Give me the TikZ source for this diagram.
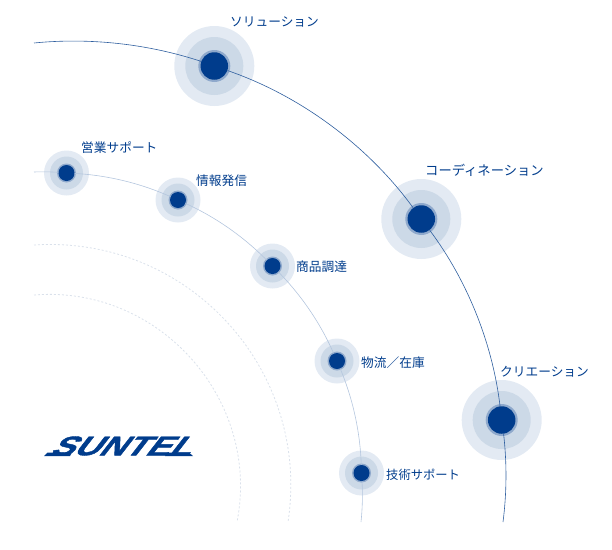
\documentclass[tikz,border=0pt]{standalone}
\usepackage{fontspec}
\newfontfamily\jpfont{Noto Sans CJK JP}
\newfontfamily\logofont[FakeSlant=0.6,FakeBold=1.5]{Liberation Sans Bold}
\usetikzlibrary{positioning}
\definecolor{navy}{HTML}{003C8C}
\definecolor{ringa}{HTML}{E3EAF3}
\definecolor{ringb}{HTML}{CCD9E7}
\definecolor{ringc}{HTML}{8FA9CC}
\definecolor{linea}{HTML}{2F5F9F}
\definecolor{lineb}{HTML}{B4C6DE}
\definecolor{lined}{HTML}{DAE1EB}
\tikzset{x=1pt, y=-1pt, node distance = 2pt}

\begin{document}
\begin{tikzpicture}[spot/.style={circle, inner sep=0pt, minimum size=#1},
label_text/.style={font=\jpfont\fontsize{12.7}{15}\selectfont, text=navy, inner sep=0pt},
arc_main/.style={draw=linea, line width=0.6pt, looseness=0.85},
arc_sub/.style={draw=lineb, line width=0.6pt, looseness=0.85},
arc_dot/.style={draw=lined, line width=0.8pt, dash pattern=on 2pt off 2pt, looseness=1.05}]
    \useasboundingbox (0,0) rectangle (612,549);

    % dotted arcs
    \coordinate (dota) at (34,245);
    \coordinate (dotb) at (288,522);
    \coordinate (dotc) at (34,295);
    \coordinate (dotd) at (237,522);
    \draw[arc_dot] (dota) to[bend left=51.2] (dotb);
    \draw[arc_dot] (dotc) to[bend left=52.9] (dotd);

    % large spots
    \foreach \name/\x/\y in {sol/214.3/66, coord/421.3/219, crea/501.7/420}
    {
    \node[spot=80pt, fill=ringa] (\name a) at (\x,\y) {};
    \node[spot=58pt, fill=ringb] (\name b) at (\x,\y) {};
    \node[spot=32pt, fill=ringc] (\name c) at (\x,\y) {};
    \node[spot=27.5pt, fill=navy] (\name) at (\x,\y) {};
    }

    % small spots
    \foreach \name/\x/\y in {sales/66.5/173, info/178/200, goods/272.5/266, stock/337/361, tech/361.5/473}
    {
    \node[spot=45pt, fill=ringa] (\name a) at (\x,\y) {};
    \node[spot=33pt, fill=ringb] (\name b) at (\x,\y) {};
    \node[spot=19pt, fill=ringc] (\name c) at (\x,\y) {};
    \node[spot=16pt, fill=navy] (\name) at (\x,\y) {};
    }

    % arcs
    \coordinate (mainstart) at (34,43);
    \coordinate (mainend) at (503,522);
    \draw[arc_main] (mainstart) to[bend left=12] (sol);
    \draw[arc_main] (sol) to[bend left=17.5] (coord);
    \draw[arc_main] (coord) to[bend left=15] (crea);
    \draw[arc_main] (crea) to[bend left=7] (mainend);

    \coordinate (substart) at (34,172);
    \coordinate (subend) at (361,522);
    \draw[arc_sub] (substart) to[bend left=3] (sales);
    \draw[arc_sub] (sales) to[bend left=10.5] (info);
    \draw[arc_sub] (info) to[bend left=10.5] (goods);
    \draw[arc_sub] (goods) to[bend left=10.5] (stock);
    \draw[arc_sub] (stock) to[bend left=10.5] (tech);
    \draw[arc_sub] (tech) to[bend left=4.5] (subend);

    % labels
    \node[label_text, anchor=west] (sollabel) at (230,21.5) {ソリューション};
    \node[label_text, anchor=west, font=\jpfont\fontsize{13.3}{15}\selectfont] (coordlabel) at (425,170.5) {コーディネーション};
    \node[label_text, anchor=west] (crealabel) at (500,371.5) {クリエーション};
    \node[label_text, anchor=west] (saleslabel) at (81,147.5) {営業サポート};
    \node[label_text, anchor=west] (infolabel) at (196,180.5) {情報発信};
    \node[label_text, anchor=west] (goodslabel) at (296,266.5) {商品調達};
    \node[label_text, anchor=west] (stocklabel) at (361,362.5) {物流／在庫};
    \node[label_text, anchor=west, font=\jpfont\fontsize{12.3}{15}\selectfont] (techlabel) at (386,474.5) {技術サポート};

    % logo
    \node[text=navy, inner sep=0pt, font=\logofont\fontsize{27}{27}\selectfont, xscale=1.3] (logo) at (119,446) {SUNTEL};
    \fill[navy] (44,456) -- (47.5,452.5) -- (72,452.5) -- (70,456) -- cycle;
    \fill[navy] (165,456) -- (167,452.5) -- (189,452.5) -- (193,456) -- cycle;
\end{tikzpicture}
\end{document}
